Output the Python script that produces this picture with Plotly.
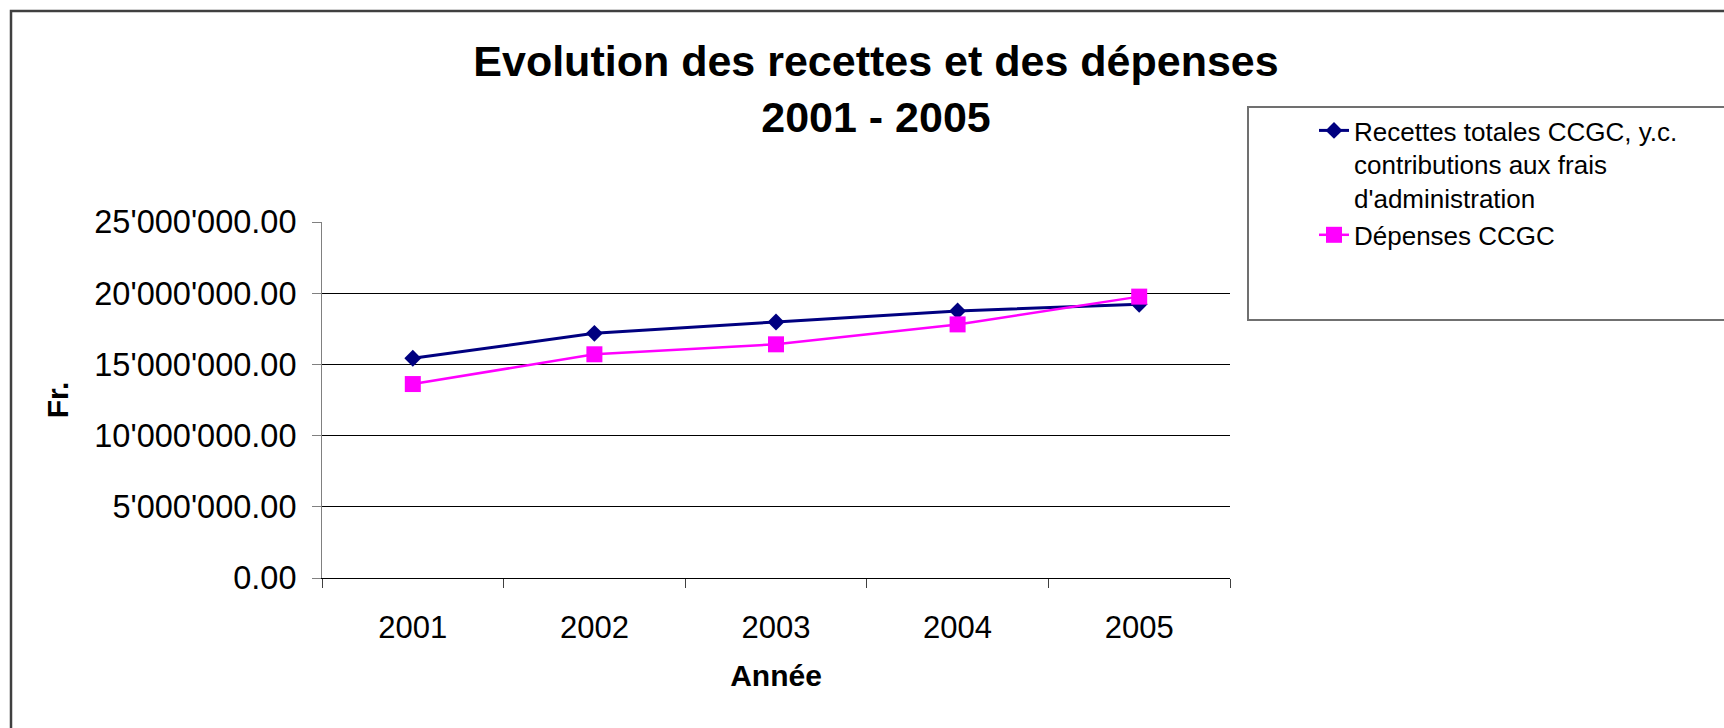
import plotly.graph_objects as pg

# values (Fr.)
years = ["2001", "2002", "2003", "2004", "2005"]
recettes = [15430000, 17180000, 17980000, 18750000, 19220000]
depenses = [13620000, 15710000, 16410000, 17810000, 19760000]

recettes_name = "Recettes totales CCGC, y.c.<br>contributions aux frais<br>d'administration"
depenses_name = "Dépenses CCGC"

FONT = "Liberation Sans, Arial, sans-serif"

# plot area in pixels of the 1724x728 page
PLOT_LEFT, PLOT_RIGHT = 322, 1230
PLOT_TOP, PLOT_BOTTOM = 222, 578


def px_to_paper_x(x):
    return (x - PLOT_LEFT) / (PLOT_RIGHT - PLOT_LEFT)


def px_to_paper_y(y):
    return (PLOT_BOTTOM - y) / (PLOT_BOTTOM - PLOT_TOP)


def plot_recettes_depenses():
    """ Prepare and create the plot of receipts vs. expenses """

    figure = pg.Figure()
    figure.add_trace(pg.Scatter(x=years, y=recettes, name=recettes_name,
                                mode="lines+markers",
                                line=dict(color="#000080", width=3),
                                marker=dict(symbol="diamond", size=13, color="#000080")))
    figure.add_trace(pg.Scatter(x=years, y=depenses, name=depenses_name,
                                mode="lines+markers",
                                line=dict(color="#FF00FF", width=2.5),
                                marker=dict(symbol="square", size=16, color="#FF00FF")))

    figure.update_layout(width=1724, height=728,
                         margin=dict(l=PLOT_LEFT, r=1724 - PLOT_RIGHT, t=PLOT_TOP, b=728 - PLOT_BOTTOM,
                                     autoexpand=False),
                         paper_bgcolor="white", plot_bgcolor="white",
                         font=dict(family=FONT, color="black"),
                         separators=".'",
                         title=dict(text="<b>Evolution des recettes et des dépenses<br>2001 - 2005</b>",
                                    font=dict(size=43, family=FONT, color="black"),
                                    xref="container", yref="container",
                                    x=876 / 1724, xanchor="center",
                                    y=1 - 76 / 728, yanchor="middle"),
                         legend=dict(x=px_to_paper_x(1314), y=px_to_paper_y(107),
                                     xanchor="left", yanchor="top", valign="top",
                                     font=dict(size=26, family=FONT, color="black"),
                                     bgcolor="rgba(0,0,0,0)", borderwidth=0,
                                     tracegroupgap=10),
                         showlegend=True)

    figure.update_xaxes(type="category", range=[-0.5, 4.5],
                        showline=True, linecolor="black", linewidth=1,
                        ticks="outside", tickson="boundaries", ticklen=9, tickcolor="#404040",
                        tickfont=dict(size=31), ticklabelstandoff=22,
                        showgrid=False, zeroline=False,
                        title=dict(text="<b>Année</b>", font=dict(size=30), standoff=20))
    figure.update_yaxes(range=[0, 25000000], dtick=5000000, tickformat=",.2f",
                        showline=True, linecolor="#808080", linewidth=1,
                        ticks="outside", ticklen=9, tickcolor="#808080",
                        tickfont=dict(size=32.5), ticklabelstandoff=9,
                        showgrid=True, gridcolor="black", gridwidth=1, zeroline=False,
                        title=dict(text="<b>Fr.</b>", font=dict(size=30), standoff=16))

    # outer chart frame and legend box, both running past the right edge
    figure.add_shape(type="rect", xref="paper", yref="paper",
                     x0=px_to_paper_x(11), x1=px_to_paper_x(1800),
                     y0=px_to_paper_y(800), y1=px_to_paper_y(11),
                     line=dict(color="#404040", width=2.5), layer="below")
    figure.add_shape(type="rect", xref="paper", yref="paper",
                     x0=px_to_paper_x(1248), x1=px_to_paper_x(1800),
                     y0=px_to_paper_y(320), y1=px_to_paper_y(107),
                     line=dict(color="#707070", width=2), layer="below")

    return figure


fig = plot_recettes_depenses()
fig.write_html("out.html", config={"displayModeBar": False},
               post_script="document.body.style.margin='0';document.body.style.overflow='hidden';")
